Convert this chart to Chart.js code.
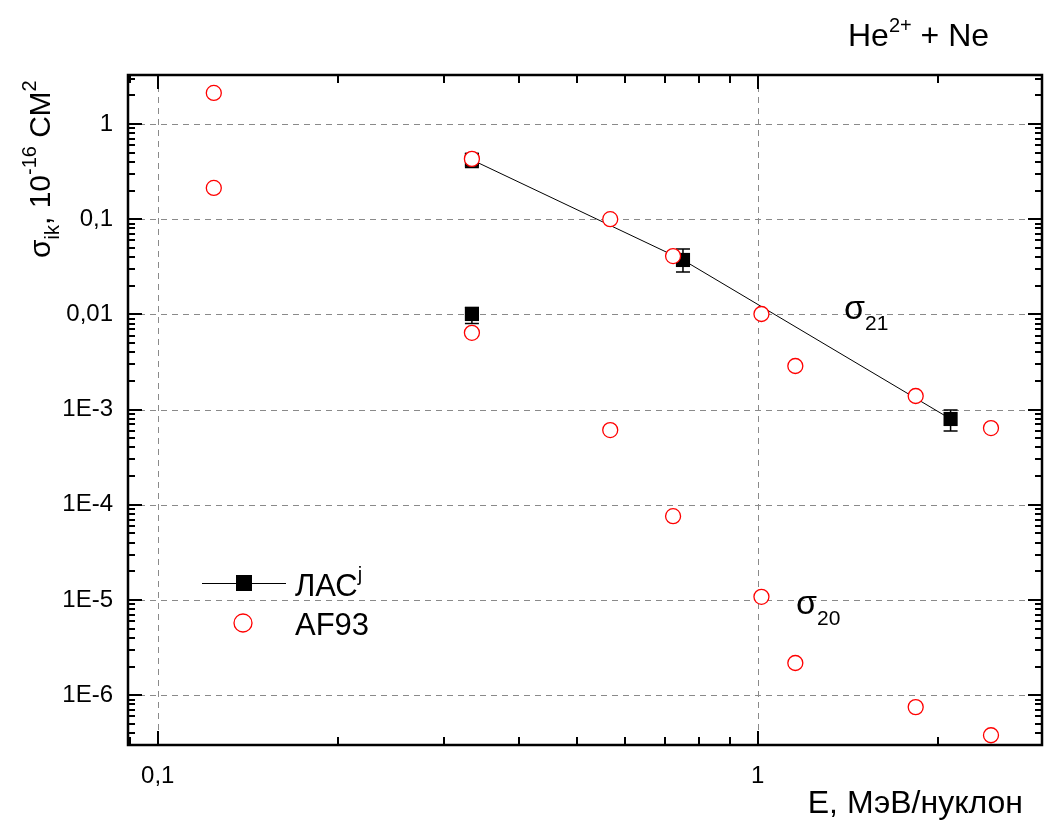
<!DOCTYPE html>
<html>
<head>
<meta charset="utf-8">
<script src="https://cdn.jsdelivr.net/npm/chart.js@4.4.1/dist/chart.umd.min.js"></script>
<style>
html, body { margin: 0; padding: 0; background: #fff; }
#wrap { width: 1052px; height: 825px; }
</style>
</head>
<body>
<div id="wrap"><canvas id="chart" width="1052" height="825"></canvas></div>
<script>
// AF93 calculation, both sigma21 and sigma20 at each energy
const af93Energy = [0.124, 0.124, 0.334, 0.334, 0.568, 0.568, 0.723, 0.723, 1.015, 1.015, 1.156, 1.156, 1.835, 1.835, 2.45, 2.45];
const af93Sigma = [2.12, 0.213, 0.43, 0.0064, 0.1, 6.1e-4, 0.041, 7.6e-5, 0.0101, 1.08e-5, 2.87e-3, 2.18e-6, 1.39e-3, 7.5e-7, 6.4e-4, 3.8e-7];

// ЛАС measurements, sigma21 (joined by a line)
const las21Energy = [0.334, 0.751, 2.098];
const las21Sigma = [0.42, 0.0373, 7.97e-4];
const las21Low = [0.35, 0.0279, 5.96e-4];
const las21High = [0.49, 0.0486, 9.9e-4];

// ЛАС measurement, sigma20
const las20Energy = [0.334];
const las20Sigma = [0.0101];
const las20Low = [0.0080];
const las20High = [0.0118];

const xTickValues = [0.1, 1];
const xTickLabels = ['0,1', '1'];
const yTickValues = [1e-6, 1e-5, 1e-4, 1e-3, 0.01, 0.1, 1];
const yTickLabels = ['1E-6', '1E-5', '1E-4', '1E-3', '0,01', '0,1', '1'];

const FONT = "'Liberation Sans', Arial, sans-serif";

function toPoints(xs, ys) {
    return xs.map((x, i) => ({ x: x, y: ys[i] }));
}

function labelFor(values, labels, v) {
    const i = values.findIndex(t => Math.abs(Math.log10(t) - Math.log10(v)) < 1e-6);
    return i >= 0 ? labels[i] : '';
}

// draws text pieces one after another (normal / sub / sup)
function drawRich(ctx, x, y, parts) {
    let cx = x;
    parts.forEach(p => {
        ctx.font = p.size + 'px ' + FONT;
        ctx.fillText(p.t, cx, y + (p.dy || 0));
        cx += ctx.measureText(p.t).width;
    });
    return cx;
}

const framePlugin = {
    id: 'frame',
    beforeDatasetsDraw(chart) {
        const ctx = chart.ctx;
        const area = chart.chartArea;
        const xs = chart.scales.x;
        const ys = chart.scales.y;
        ctx.save();
        // dashed grid at decades
        ctx.strokeStyle = '#8a8a8a';
        ctx.lineWidth = 1;
        ctx.setLineDash([6, 5]);
        xTickValues.forEach(v => {
            const px = Math.round(xs.getPixelForValue(v)) + 0.5;
            ctx.beginPath();
            ctx.moveTo(px, area.top);
            ctx.lineTo(px, area.bottom);
            ctx.stroke();
        });
        yTickValues.forEach(v => {
            const py = Math.round(ys.getPixelForValue(v)) + 0.5;
            ctx.beginPath();
            ctx.moveTo(area.left, py);
            ctx.lineTo(area.right, py);
            ctx.stroke();
        });
        ctx.setLineDash([]);
        // error bars of the ЛАС points
        ctx.strokeStyle = '#000';
        ctx.lineWidth = 1.5;
        const bars = (ex, lo, hi) => {
            ex.forEach((e, i) => {
                const px = xs.getPixelForValue(e);
                const pl = ys.getPixelForValue(lo[i]);
                const ph = ys.getPixelForValue(hi[i]);
                ctx.beginPath();
                ctx.moveTo(px, pl); ctx.lineTo(px, ph);
                ctx.moveTo(px - 7, pl); ctx.lineTo(px + 7, pl);
                ctx.moveTo(px - 7, ph); ctx.lineTo(px + 7, ph);
                ctx.stroke();
            });
        };
        bars(las21Energy, las21Low, las21High);
        bars(las20Energy, las20Low, las20High);
        ctx.restore();
    },
    afterDraw(chart) {
        const ctx = chart.ctx;
        const area = chart.chartArea;
        const xs = chart.scales.x;
        const ys = chart.scales.y;
        ctx.save();

        // inward ticks on all four sides
        ctx.strokeStyle = '#000';
        ctx.lineWidth = 2;
        for (let d = -2; d <= 1; d++) {
            for (let k = 1; k <= 9; k++) {
                const v = k * Math.pow(10, d);
                if (v < xs.min || v > xs.max) continue;
                const len = k === 1 ? 14 : 8;
                const px = Math.round(xs.getPixelForValue(v));
                ctx.beginPath();
                ctx.moveTo(px, area.bottom); ctx.lineTo(px, area.bottom - len);
                ctx.moveTo(px, area.top); ctx.lineTo(px, area.top + len);
                ctx.stroke();
            }
        }
        for (let d = -7; d <= 1; d++) {
            for (let k = 1; k <= 9; k++) {
                const v = k * Math.pow(10, d);
                if (v < ys.min || v > ys.max) continue;
                const len = k === 1 ? 14 : 7;
                const py = Math.round(ys.getPixelForValue(v));
                ctx.beginPath();
                ctx.moveTo(area.left, py); ctx.lineTo(area.left + len, py);
                ctx.moveTo(area.right, py); ctx.lineTo(area.right - len, py);
                ctx.stroke();
            }
        }
        // box
        ctx.lineWidth = 2.5;
        ctx.strokeRect(area.left, area.top, area.right - area.left, area.bottom - area.top);

        ctx.fillStyle = '#000';
        ctx.textBaseline = 'alphabetic';
        ctx.textAlign = 'left';

        // title top right
        drawRich(ctx, 848, 46, [
            { t: 'He', size: 32 },
            { t: '2+', size: 20, dy: -14 },
            { t: ' + Ne', size: 32 }
        ]);

        // series labels
        drawRich(ctx, 844, 319, [{ t: 'σ', size: 34 }, { t: '21', size: 21, dy: 11 }]);
        drawRich(ctx, 796, 614, [{ t: 'σ', size: 34 }, { t: '20', size: 21, dy: 11 }]);

        // axis titles
        ctx.font = '32px ' + FONT;
        ctx.textAlign = 'right';
        ctx.fillText('E, МэВ/нуклон', 1023, 813);
        ctx.textAlign = 'left';

        ctx.save();
        ctx.translate(50, 258);
        ctx.rotate(-Math.PI / 2);
        drawRich(ctx, 0, 0, [
            { t: 'σ', size: 30 },
            { t: 'ik', size: 20, dy: 9 },
            { t: ', 10', size: 30 },
            { t: '-16', size: 20, dy: -14 },
            { t: ' СМ', size: 30 },
            { t: '2', size: 20, dy: -14 }
        ]);
        ctx.restore();

        // legend
        ctx.lineWidth = 1;
        ctx.beginPath();
        ctx.moveTo(202, 583.5); ctx.lineTo(286, 583.5);
        ctx.stroke();
        ctx.fillRect(236, 575, 16, 16);
        drawRich(ctx, 295, 596, [{ t: 'ЛАС', size: 31 }, { t: 'j', size: 20, dy: -15 }]);
        ctx.strokeStyle = '#ff0000';
        ctx.lineWidth = 1.3;
        ctx.beginPath();
        ctx.arc(243, 623, 9, 0, Math.PI * 2);
        ctx.stroke();
        drawRich(ctx, 295, 635, [{ t: 'AF93', size: 31 }]);

        ctx.restore();
    }
};

const ctx = document.getElementById('chart').getContext('2d');
const chart = new Chart(ctx, {
    type: 'scatter',
    data: {
        datasets: [
            {
                label: 'AF93',
                data: toPoints(af93Energy, af93Sigma),
                showLine: false,
                pointStyle: 'circle',
                pointRadius: 7.5,
                pointBorderWidth: 1.3,
                pointBorderColor: '#ff0000',
                pointBackgroundColor: '#ffffff',
                order: 0
            },
            {
                label: 'ЛАС σ21',
                data: toPoints(las21Energy, las21Sigma),
                showLine: true,
                borderColor: '#000',
                borderWidth: 1,
                pointStyle: 'rect',
                pointRadius: 10,
                pointBorderWidth: 0,
                pointBackgroundColor: '#000',
                order: 1
            },
            {
                label: 'ЛАС σ20',
                data: toPoints(las20Energy, las20Sigma),
                showLine: false,
                pointStyle: 'rect',
                pointRadius: 10,
                pointBorderWidth: 0,
                pointBackgroundColor: '#000',
                order: 1
            }
        ]
    },
    options: {
        responsive: false,
        animation: false,
        layout: { padding: { top: 75, right: 5, left: 0, bottom: 0 } },
        plugins: {
            legend: { display: false },
            tooltip: { enabled: false }
        },
        scales: {
            x: {
                type: 'logarithmic',
                min: 0.0892,
                max: 2.98,
                grid: { display: false, drawTicks: false },
                border: { display: false },
                afterBuildTicks: scale => { scale.ticks = xTickValues.map(v => ({ value: v })); },
                afterFit: scale => {
                    scale.height = 80;
                    scale.paddingLeft = 0;
                    scale.paddingRight = 0;
                },
                ticks: {
                    callback: v => labelFor(xTickValues, xTickLabels, v),
                    font: { family: FONT, size: 24 },
                    color: '#000',
                    padding: 17,
                    maxRotation: 0,
                    autoSkip: false
                }
            },
            y: {
                type: 'logarithmic',
                min: 3.0e-7,
                max: 3.27,
                grid: { display: false, drawTicks: false },
                border: { display: false },
                afterBuildTicks: scale => { scale.ticks = yTickValues.map(v => ({ value: v })); },
                afterFit: scale => {
                    scale.width = 128;
                    scale.paddingTop = 0;
                    scale.paddingBottom = 0;
                },
                ticks: {
                    callback: v => labelFor(yTickValues, yTickLabels, v),
                    font: { family: FONT, size: 24 },
                    color: '#000',
                    padding: 15,
                    autoSkip: false
                }
            }
        }
    },
    plugins: [framePlugin]
});
</script>
</body>
</html>
